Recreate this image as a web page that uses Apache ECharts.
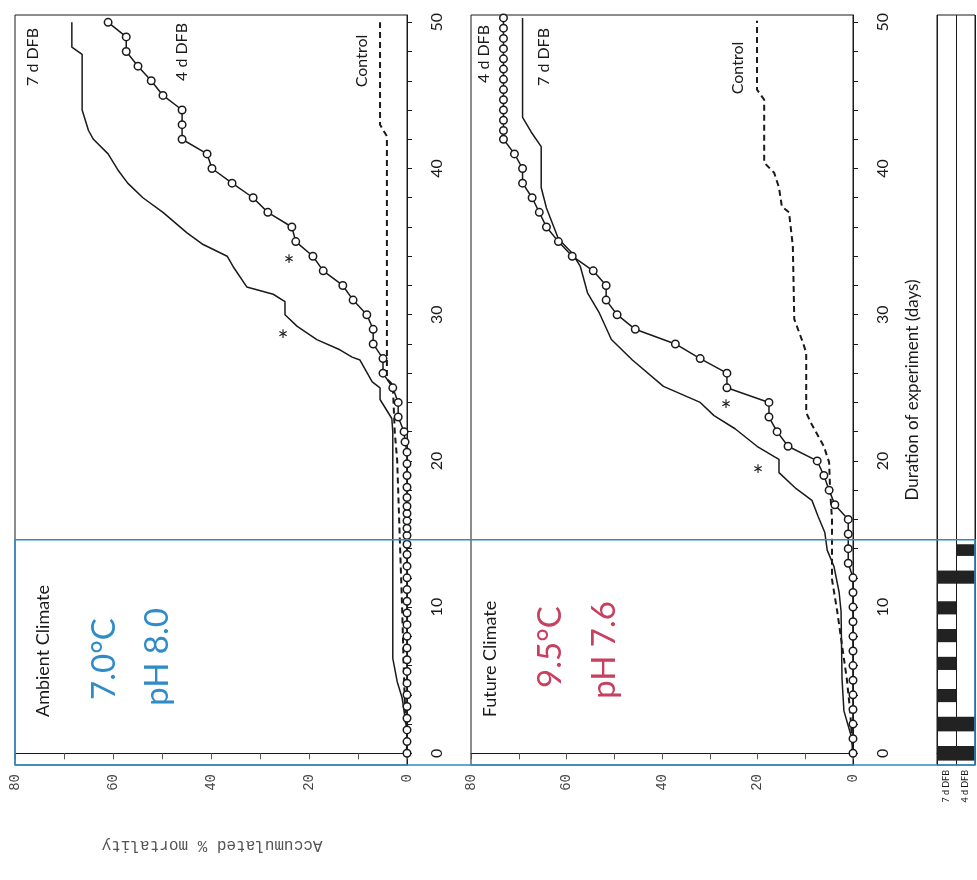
<!DOCTYPE html>
<html>
<head>
<meta charset="utf-8">
<title>Accumulated mortality</title>
<script src="https://cdn.jsdelivr.net/npm/echarts@6/dist/echarts.min.js"></script>
<style>
html, body { margin: 0; padding: 0; background: #fff; }
#main { width: 977px; height: 880px; }
</style>
</head>
<body>
<div id="main"></div>
<script>
// 坐标轴刻度
var dayTicks = [0, 2, 4, 6, 8, 10, 12, 14, 16, 18, 20, 22, 24, 26, 28, 30, 32, 34, 36, 38, 40, 42, 44, 46, 48, 50];
var dayLabels = [0, 10, 20, 30, 40, 50];
var mortLabels = [0, 20, 40, 60, 80];
var dayMin = -0.8, dayMax = 50.5;
var acclimEnd = 14.6;

// Ambient Climate 面板
var amb4dDays = [0, 0.8, 1.6, 2.4, 3.2, 4, 4.8, 5.6, 6.4, 7.2, 8, 8.8, 9.6, 10.4, 11.2, 12, 12.8, 13.6,
    14.3, 14.9, 15.4, 15.9, 16.4, 16.9, 17.5, 18.2, 19, 19.8, 20.6, 21.3,
    22, 23, 24, 25, 26, 27, 28, 29, 30, 31, 32, 33, 34, 35, 36, 37, 38, 39, 40, 41, 42, 43, 44, 45, 46, 47, 48, 49, 50];
var amb4dVals = [0, 0, 0, 0, 0, 0, 0, 0, 0, 0, 0, 0, 0, 0, 0, 0, 0, 0,
    0, 0, 0, 0, 0, 0, 0, 0, 0, 0, 0, 0.4,
    0.6, 1.8, 1.8, 2.9, 4.9, 4.9, 6.9, 6.9, 8.2, 11.0, 13.1, 17.1, 19.2, 22.7, 23.5, 28.4, 31.4, 35.7, 39.8, 40.8,
    45.9, 45.9, 45.9, 49.8, 52.2, 54.9, 57.3, 57.3, 61.0];

var amb7dDays = [0, 1.5, 3.8, 4.9, 6.5, 22, 22.9, 24.2, 25, 25.4, 26.9, 27.1, 27.6, 28.3, 29.2, 30, 30.9, 31.4, 31.9, 33.3,
    34, 34.8, 35.6, 37, 38, 39, 39.9, 41, 42, 42.6, 44, 47.8, 48.3, 50];
var amb7dVals = [0, 0, 1.0, 2.0, 2.9, 2.9, 3.1, 5.5, 5.5, 7.1, 9.6, 11.2, 13.7, 18.4, 22.4, 24.9, 24.9, 27.3, 32.7, 35.5,
    36.7, 41.6, 44.9, 49.8, 53.9, 57.0, 59.0, 61.0, 64.0, 65.0, 66.3, 66.3, 68.4, 68.4];

var ambCtrlDays = [0, 4, 10, 15, 20, 22, 25.2, 25.6, 42.2, 43, 50];
var ambCtrlVals = [0, 0.5, 1, 1.5, 2, 2.5, 2.9, 4.1, 4.1, 5.5, 5.5];

// Future Climate 面板
var fut4dDays = [0, 1, 2, 3, 4, 5, 6, 7, 8, 9, 10, 11, 12, 13, 14, 15, 16, 17, 18, 19, 20, 21, 22, 23, 24, 25,
    26, 27, 28, 29, 30, 31, 32, 33, 34, 35, 36, 37, 38, 39, 40, 41, 42,
    42.6, 43.3, 44, 44.7, 45.4, 46.1, 46.8, 47.5, 48.2, 48.9, 49.6, 50.3];
var fut4dVals = [0, 0, 0, 0, 0, 0, 0, 0, 0, 0, 0, 0, 0, 1, 1, 1, 1, 3.8, 5.0, 6.1, 7.5, 13.6, 15.9, 17.6, 17.6, 26.4,
    26.4, 32.0, 37.2, 45.6, 49.4, 51.7, 51.7, 54.4, 58.8, 61.7, 64.2, 65.7, 67.2, 69.2, 69.2, 70.9, 73.2,
    73.2, 73.2, 73.2, 73.2, 73.2, 73.2, 73.2, 73.2, 73.2, 73.2, 73.2, 73.2];

var fut7dDays = [0, 1.2, 2.9, 5.1, 9.7, 11, 12.8, 13.9, 15.1, 16.2, 17.3, 18.1, 19.2, 20.1, 20.3, 21, 22.2, 23.1, 24, 25.1,
    26.9, 28.3, 30.1, 31.5, 33.3, 34.2, 35.2, 37.3, 38.7, 41.5, 42.5, 43.5, 50.3];
var fut7dVals = [0, 0.4, 1.9, 2.3, 2.5, 2.9, 4.0, 5.4, 5.9, 7.3, 8.6, 11.9, 15.5, 15.5, 16.5, 20.1, 24.7, 29.1, 32.0, 39.7,
    46.2, 50.6, 53.1, 55.6, 57.1, 58.8, 61.7, 64.2, 65.3, 65.3, 67.4, 69.2, 69.2];

var futCtrlDays = [0, 2.9, 5.1, 7.4, 9.7, 11.9, 16, 18.1, 19.9, 21, 22.6, 23.3, 27.4, 28.1, 29.7, 34.7, 37, 37.4, 38.7, 39.7,
    40.4, 44.7, 45.4, 50.1];
var futCtrlVals = [0, 0.6, 1.3, 2.3, 3.3, 4.4, 4.4, 4.8, 5.0, 6.1, 8.8, 9.8, 9.8, 10.5, 12.3, 12.6, 13.4, 14.9, 15.5, 16.5,
    18.6, 18.6, 20.1, 20.1];

// 投喂条带（起止天数）
var feedCats = ['7 d DFB', '4 d DFB'];
var feed7d = [[-0.5, 0.5], [1.5, 2.5], [3.5, 4.4], [5.7, 6.6], [7.6, 8.5], [9.5, 10.4], [11.6, 12.5]];
var feed4d = [[-0.5, 0.5], [1.5, 2.5], [11.6, 12.5], [13.5, 14.3]];

function pairs(days, vals) {
    return days.map(function (d, i) { return [vals[i], d]; });
}

var feedData = [];
feed7d.forEach(function (r) { feedData.push([0, r[0], r[1]]); });
feed4d.forEach(function (r) { feedData.push([1, r[0], r[1]]); });

var black = '#1a1a1a';
var blue = '#2f8cc8';
var red = '#c8405f';
var sans = 'Lato';

function mortAxis(grid) {
    return {
        type: 'value', gridIndex: grid, min: 0, max: 80, interval: 10, inverse: true, position: 'bottom',
        axisLine: { show: true, lineStyle: { color: black, width: 1 } },
        axisTick: { show: true, length: 6, lineStyle: { color: '#555' } },
        axisLabel: { customValues: mortLabels, rotate: 90, margin: 9, fontFamily: 'Liberation Mono', fontSize: 14, color: '#444' },
        splitLine: { show: false }
    };
}

function dayAxis(grid) {
    return {
        type: 'value', gridIndex: grid, position: 'right', min: dayMin, max: dayMax,
        axisLine: { show: true, lineStyle: { color: black, width: 1 } },
        axisTick: { show: true, length: 5, customValues: dayTicks, lineStyle: { color: black } },
        axisLabel: { customValues: dayLabels, rotate: 90, margin: 22, fontFamily: sans, fontSize: 16, color: black },
        splitLine: { show: false }
    };
}

function circleLine(grid, data) {
    return {
        type: 'line', xAxisIndex: grid, yAxisIndex: grid, data: data, z: 4,
        symbol: 'circle', symbolSize: 7.5, silent: true,
        itemStyle: { color: '#fff', borderColor: black, borderWidth: 1.5 },
        lineStyle: { color: black, width: 1.5 }
    };
}

function plainLine(grid, data, dashed) {
    return {
        type: 'line', xAxisIndex: grid, yAxisIndex: grid, data: data, z: 3,
        showSymbol: false, silent: true,
        lineStyle: { color: black, width: dashed ? 2 : 1.5, type: dashed ? [6, 4] : 'solid' }
    };
}

function renderFeed(params, api) {
    var lo = api.coord([api.value(0), api.value(1)]);
    var hi = api.coord([api.value(0), api.value(2)]);
    var w = api.size([1, 0])[0];
    return {
        type: 'rect',
        shape: { x: lo[0] - w / 2, y: hi[1], width: w, height: lo[1] - hi[1] },
        style: { fill: '#222' }
    };
}

function txt(x, y, s, size, color, rot, family) {
    return {
        type: 'text', x: x, y: y, rotation: rot, z: 10, silent: true,
        style: {
            text: s, fill: color, font: size + 'px "' + (family || sans) + '"',
            textAlign: 'center', textVerticalAlign: 'middle', align: 'center', verticalAlign: 'middle'
        }
    };
}

var up = Math.PI / 2;

var option = {
    animation: false,
    backgroundColor: '#fff',
    grid: [
        { left: 15, right: 570, top: 15, bottom: 115, show: true, borderColor: black, borderWidth: 1 },
        { left: 471, right: 124, top: 15, bottom: 115, show: true, borderColor: black, borderWidth: 1 },
        { left: 937, right: 2, top: 15, bottom: 115, show: true, borderColor: black, borderWidth: 1 }
    ],
    xAxis: [
        mortAxis(0),
        mortAxis(1),
        {
            type: 'category', gridIndex: 2, data: feedCats, position: 'bottom',
            axisLine: { show: true, lineStyle: { color: black } },
            axisTick: { show: false },
            axisLabel: { interval: 0, rotate: 90, margin: 5, fontFamily: sans, fontSize: 9, color: black },
            splitLine: { show: true, lineStyle: { color: black, width: 1 } }
        }
    ],
    yAxis: [
        dayAxis(0),
        dayAxis(1),
        { type: 'value', gridIndex: 2, min: dayMin, max: dayMax, show: false, splitLine: { show: false } }
    ],
    series: [
        plainLine(0, pairs(ambCtrlDays, ambCtrlVals), true),
        plainLine(0, pairs(amb7dDays, amb7dVals), false),
        circleLine(0, pairs(amb4dDays, amb4dVals)),
        plainLine(1, pairs(futCtrlDays, futCtrlVals), true),
        plainLine(1, pairs(fut7dDays, fut7dVals), false),
        circleLine(1, pairs(fut4dDays, fut4dVals)),
        {
            type: 'custom', xAxisIndex: 2, yAxisIndex: 2, data: feedData, silent: true,
            renderItem: renderFeed, encode: { x: 0, y: [1, 2] }
        }
    ]
};

var chart = echarts.init(document.getElementById('main'));
chart.setOption(option);

// 驯化期蓝框
var yTop = chart.convertToPixel({ gridIndex: 0 }, [0, acclimEnd])[1];
var yBot = chart.convertToPixel({ gridIndex: 0 }, [0, dayMin])[1];

chart.setOption({
    graphic: { elements: [
        {
            type: 'rect', z: 9, silent: true,
            shape: { x: 15, y: yTop, width: 960, height: yBot - yTop },
            style: { fill: 'none', stroke: blue, lineWidth: 1.5 }
        },
        txt(43, 651, 'Ambient Climate', 18, black, up),
        txt(104, 659, '7.0°C', 33, blue, up),
        txt(157, 657, 'pH 8.0', 33, blue, up),
        txt(490, 659, 'Future Climate', 18, black, up),
        txt(550, 647, '9.5°C', 33, red, up),
        txt(604, 650, 'pH 7.6', 33, red, up),
        txt(33, 57, '7 d DFB', 16, black, up),
        txt(182, 52, '4 d DFB', 16, black, up),
        txt(362, 61, 'Control', 16, black, up),
        txt(289, 267, '*', 26, black, 0),
        txt(283, 342, '*', 26, black, 0),
        txt(484, 54, '4 d DFB', 16, black, up),
        txt(544, 57, '7 d DFB', 16, black, up),
        txt(738, 68, 'Control', 16, black, up),
        txt(726, 412, '*', 26, black, 0),
        txt(758, 477, '*', 26, black, 0),
        txt(913, 390, 'Duration of experiment (days)', 17, black, up),
        txt(212, 845, 'Accumulated % mortality', 16, '#555', Math.PI, 'Liberation Mono')
    ] }
});
</script>
</body>
</html>
